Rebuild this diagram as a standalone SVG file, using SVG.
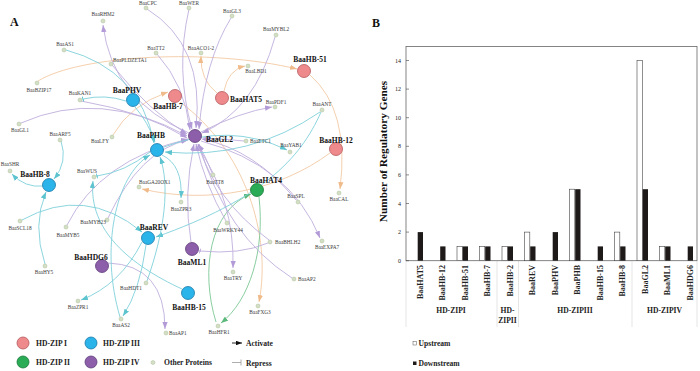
<svg xmlns="http://www.w3.org/2000/svg" width="700" height="371" viewBox="0 0 700 371">
<style>
.lab{font-family:"Liberation Serif",serif;font-size:5.3px;fill:#3a3a3a}
.big{font-family:"Liberation Serif",serif;font-weight:bold;font-size:7.5px;fill:#111}
.leg{font-family:"Liberation Serif",serif;font-weight:bold;font-size:7.6px;fill:#222}
.pl{font-family:"Liberation Serif",serif;font-weight:bold;font-size:12px;fill:#111}
.tk{font-family:"Liberation Serif",serif;font-size:6px;fill:#222}
.xl{font-family:"Liberation Serif",serif;font-weight:bold;font-size:8px;fill:#222}
.e{fill:none;stroke-width:0.9}
.ec{stroke:#7fd0da}.ep{stroke:#c0afdc}.eo{stroke:#f3c9a4}.eg{stroke:#7cc795}
.sn{fill:#d3e0c4;stroke:#aebf9c;stroke-width:0.5}
.n1{fill:#ef8a8c;stroke:#b4585c;stroke-width:0.8}
.n2{fill:#2aab55;stroke:#1b7a3b;stroke-width:0.8}
.n3{fill:#2ab4ea;stroke:#1a78a8;stroke-width:0.8}
.n4{fill:#8d5ea9;stroke:#5e3e7a;stroke-width:0.8}
.up{fill:#fff;stroke:#444;stroke-width:0.6}
.dn{fill:#1e1a1a}
.sep{stroke:#dadada;stroke-width:0.7}
</style>
<defs>
<marker id="ac" viewBox="0 0 8 6" refX="8" refY="3" markerWidth="7" markerHeight="5.5" markerUnits="userSpaceOnUse" orient="auto"><path d="M0,0L8,3L0,6z" fill="#5cc3cf"/></marker>
<marker id="ap" viewBox="0 0 8 6" refX="8" refY="3" markerWidth="7" markerHeight="5.5" markerUnits="userSpaceOnUse" orient="auto"><path d="M0,0L8,3L0,6z" fill="#b39bd8"/></marker>
<marker id="ao" viewBox="0 0 8 6" refX="8" refY="3" markerWidth="7" markerHeight="5.5" markerUnits="userSpaceOnUse" orient="auto"><path d="M0,0L8,3L0,6z" fill="#efbb8a"/></marker>
<marker id="ag" viewBox="0 0 8 6" refX="8" refY="3" markerWidth="7" markerHeight="5.5" markerUnits="userSpaceOnUse" orient="auto"><path d="M0,0L8,3L0,6z" fill="#5db97b"/></marker>
<marker id="ak" viewBox="0 0 8 6" refX="8" refY="3" markerWidth="6" markerHeight="4.5" markerUnits="userSpaceOnUse" orient="auto"><path d="M0,0L8,3L0,6z" fill="#111"/></marker>
<marker id="bc" viewBox="0 0 2 8" refX="1" refY="4" markerWidth="1.2" markerHeight="6" markerUnits="userSpaceOnUse" orient="auto"><rect width="2" height="8" fill="#5cc3cf"/></marker>
<marker id="bp" viewBox="0 0 2 8" refX="1" refY="4" markerWidth="1.2" markerHeight="6" markerUnits="userSpaceOnUse" orient="auto"><rect width="2" height="8" fill="#b39bd8"/></marker>
</defs>

<text class="pl" x="10" y="26">A</text>
<text class="pl" x="372" y="26.5">B</text>

<g id="connectors">
<!-- orange -->
<path class="e eo" d="M217,93 Q200,80 201,56" marker-end="url(#ao)"/>
<path class="e eo" d="M224,91 Q228,70 245,66" marker-end="url(#ao)"/>
<path class="e eo" d="M330,153 C280,190 210,205 142,189" marker-end="url(#ao)"/>
<path class="e eo" d="M310,75 Q350,110 340,189" marker-end="url(#ao)"/>
<path class="e eo" d="M38,81 C80,55 210,48 297,69" marker-end="url(#ao)"/>
<path class="e eo" d="M113,135 Q130,105 168,92" marker-end="url(#ao)"/>
<path class="e eo" d="M180,102 C245,150 272,235 259,302" marker-end="url(#ao)"/>
<!-- green -->
<path class="e eg" d="M259,197 C265,250 250,300 221,323" marker-end="url(#ag)"/>
<path class="e eg" d="M216,322 C200,270 210,210 251,194" marker-end="url(#ag)"/>
<!-- purple -->
<path class="e ep" d="M189,133 Q112,100 103,25" marker-end="url(#ap)"/>
<path class="e ep" d="M147,9 Q205,45 196,128" marker-end="url(#ap)"/>
<path class="e ep" d="M189,9 Q175,70 192,129" marker-end="url(#ap)"/>
<path class="e ep" d="M231,18 Q205,60 199,129" marker-end="url(#ap)"/>
<path class="e ep" d="M275,37 Q255,110 202,133" marker-end="url(#ap)"/>
<path class="e ep" d="M157,54 Q185,85 190,130" marker-end="url(#ap)"/>
<path class="e ep" d="M112,65 Q150,112 187,134" marker-end="url(#ap)"/>
<path class="e ep" d="M21,123 Q100,88 187,136" marker-end="url(#ap)"/>
<path class="e ep" d="M81,101 Q145,112 187,138" marker-end="url(#ap)"/>
<path class="e ep" d="M201,132 Q240,112 272,107" marker-end="url(#ap)"/>
<path class="e ep" d="M244,141 Q225,139 203,138" marker-end="url(#ap)"/>
<path class="e ep" d="M212,173 Q205,155 198,144" marker-end="url(#ap)"/>
<path class="e ep" d="M108,218 Q140,150 188,140" marker-end="url(#ap)"/>
<path class="e ep" d="M67,225 Q100,160 188,139" marker-end="url(#ap)"/>
<path class="e ep" d="M226,221 Q205,185 196,144" marker-end="url(#ap)"/>
<path class="e ep" d="M269,240 Q215,200 198,144" marker-end="url(#ap)"/>
<path class="e ep" d="M292,278 Q225,235 199,144" marker-end="url(#ap)"/>
<path class="e ep" d="M296,200 Q255,150 202,139" marker-end="url(#ap)"/>
<path class="e ep" d="M201,141 Q290,165 320,238" marker-end="url(#ap)"/>
<path class="e ep" d="M196,144 Q235,200 233,268" marker-end="url(#ap)"/>
<path class="e ep" d="M191,242 Q183,195 194,144" marker-end="url(#ap)"/>
<path class="e ep" d="M268,243 Q240,255 200,251" marker-end="url(#bp)"/>
<path class="e ep" d="M108,263 Q165,265 165,329" marker-end="url(#ap)"/>
<!-- cyan -->
<path class="e ec" d="M135,107 Q148,122 155,142" marker-end="url(#ac)"/>
<path class="e ec" d="M126,101 Q105,94 83,99" marker-end="url(#bc)"/>
<path class="e ec" d="M66,50 Q140,70 154,143" marker-end="url(#ac)"/>
<path class="e ec" d="M320,112 Q250,160 165,152" marker-end="url(#ac)"/>
<path class="e ec" d="M321,112 C300,160 260,200 156,237" marker-end="url(#ac)"/>
<path class="e ec" d="M164,147 Q230,122 287,150" marker-end="url(#ac)"/>
<path class="e ec" d="M162,155 Q183,165 181,198" marker-end="url(#ac)"/>
<path class="e ec" d="M150,152 Q125,172 97,176" marker-end="url(#bc)"/>
<path class="e ec" d="M182,289 C130,265 88,230 93,181" marker-end="url(#ac)"/>
<path class="e ec" d="M142,242 Q120,285 81,300" marker-end="url(#ac)"/>
<path class="e ec" d="M146,245 Q140,290 123,316" marker-end="url(#ac)"/>
<path class="e ec" d="M120,317 C100,250 115,175 150,155" marker-end="url(#ac)"/>
<path class="e ec" d="M147,281 C165,230 170,185 160,157" marker-end="url(#ac)"/>
<path class="e ec" d="M22,220 Q85,185 142,232" marker-end="url(#ac)"/>
<path class="e ec" d="M61,141 Q68,162 54,179" marker-end="url(#ac)"/>
<path class="e ec" d="M43,186 Q25,188 12,174" marker-end="url(#ac)"/>
<path class="e ec" d="M45,264 Q32,225 46,192" marker-end="url(#ac)"/>
</g>

<!-- small nodes -->
<g id="RHM2"><circle class="sn" cx="103" cy="21" r="2"/><text class="lab" x="103" y="16" text-anchor="middle">BaaRHM2</text></g>
<g id="CPC"><circle class="sn" cx="146" cy="8" r="2"/><text class="lab" x="148" y="5" text-anchor="middle">BaaCPC</text></g>
<g id="WER"><circle class="sn" cx="189" cy="8" r="2"/><text class="lab" x="189" y="4.5" text-anchor="middle">BaaWER</text></g>
<g id="GL3"><circle class="sn" cx="232" cy="16" r="2"/><text class="lab" x="232" y="12.5" text-anchor="middle">BaaGL3</text></g>
<g id="MYBL2"><circle class="sn" cx="276" cy="35" r="2"/><text class="lab" x="276" y="31" text-anchor="middle">BaaMYBL2</text></g>
<g id="ACO12"><circle class="sn" cx="201" cy="53" r="2"/><text class="lab" x="201" y="50" text-anchor="middle">BaaACO1-2</text></g>
<g id="LBD1"><circle class="sn" cx="248" cy="66" r="2"/><text class="lab" x="256" y="73" text-anchor="middle">BaaLBD1</text></g>
<g id="PDF1"><circle class="sn" cx="275" cy="107" r="2"/><text class="lab" x="276" y="103.5" text-anchor="middle">BaaPDF1</text></g>
<g id="ANT"><circle class="sn" cx="322" cy="110" r="2"/><text class="lab" x="322" y="106" text-anchor="middle">BaaANT</text></g>
<g id="TT2"><circle class="sn" cx="156" cy="53" r="2"/><text class="lab" x="156" y="49.5" text-anchor="middle">BaaTT2</text></g>
<g id="AS1"><circle class="sn" cx="64" cy="50" r="2"/><text class="lab" x="65" y="45.5" text-anchor="middle">BaaAS1</text></g>
<g id="PLDZETA1"><circle class="sn" cx="111" cy="64" r="2"/><text class="lab" x="113" y="61.5">BaaPLDZETA1</text></g>
<g id="BZIP17"><circle class="sn" cx="37" cy="83" r="2"/><text class="lab" x="39" y="92" text-anchor="middle">BaaBZIP17</text></g>
<g id="KAN1"><circle class="sn" cx="80" cy="100" r="2"/><text class="lab" x="80" y="94.5" text-anchor="middle">BaaKAN1</text></g>
<g id="GL1"><circle class="sn" cx="19" cy="124" r="2"/><text class="lab" x="20" y="132" text-anchor="middle">BaaGL1</text></g>
<g id="ARF5"><circle class="sn" cx="60" cy="140" r="2"/><text class="lab" x="60" y="135.5" text-anchor="middle">BaaARF5</text></g>
<g id="LFY"><circle class="sn" cx="112" cy="137" r="2"/><text class="lab" x="100" y="142.5" text-anchor="middle">BaaLFY</text></g>
<g id="SHR"><circle class="sn" cx="10" cy="171" r="2"/><text class="lab" x="10" y="166" text-anchor="middle">BaaSHR</text></g>
<g id="WUS"><circle class="sn" cx="94" cy="177" r="2"/><text class="lab" x="87" y="173" text-anchor="middle">BaaWUS</text></g>
<g id="GA20OX1"><circle class="sn" cx="139" cy="187" r="2"/><text class="lab" x="139" y="183.5">BaaGA20OX1</text></g>
<g id="ETC1"><circle class="sn" cx="246" cy="141" r="2"/><text class="lab" x="250" y="143">BaaETC1</text></g>
<g id="YAB1"><circle class="sn" cx="290" cy="152" r="2"/><text class="lab" x="291" y="147" text-anchor="middle">BaaYAB1</text></g>
<g id="TT8"><circle class="sn" cx="213" cy="175" r="2"/><text class="lab" x="215" y="183.5" text-anchor="middle">BaaTT8</text></g>
<g id="ZPR3"><circle class="sn" cx="181" cy="202" r="2"/><text class="lab" x="181" y="210.5" text-anchor="middle">BaaZPR3</text></g>
<g id="SPL"><circle class="sn" cx="298" cy="202" r="2"/><text class="lab" x="296" y="198" text-anchor="middle">BaaSPL</text></g>
<g id="CAL"><circle class="sn" cx="339" cy="193" r="2"/><text class="lab" x="339" y="201" text-anchor="middle">BaaCAL</text></g>
<g id="WRKY44"><circle class="sn" cx="227" cy="223" r="2"/><text class="lab" x="228" y="232" text-anchor="middle">BaaWRKY44</text></g>
<g id="EXPA7"><circle class="sn" cx="322" cy="241" r="2"/><text class="lab" x="327" y="248.5" text-anchor="middle">BaaEXPA7</text></g>
<g id="BHLH2"><circle class="sn" cx="270" cy="242" r="2"/><text class="lab" x="275" y="244">BaaBHLH2</text></g>
<g id="MYB23"><circle class="sn" cx="107" cy="220" r="2"/><text class="lab" x="93" y="224" text-anchor="middle">BaaMYB23</text></g>
<g id="SCL18"><circle class="sn" cx="20" cy="221" r="2"/><text class="lab" x="20" y="229.5" text-anchor="middle">BaaSCL18</text></g>
<g id="MYB5"><circle class="sn" cx="66" cy="227" r="2"/><text class="lab" x="68" y="237" text-anchor="middle">BaaMYB5</text></g>
<g id="HY5"><circle class="sn" cx="45" cy="266" r="2"/><text class="lab" x="44" y="273.5" text-anchor="middle">BaaHY5</text></g>
<g id="HDT1"><circle class="sn" cx="146" cy="283" r="2"/><text class="lab" x="131" y="289.5" text-anchor="middle">BaaHDT1</text></g>
<g id="ZPR1"><circle class="sn" cx="78" cy="301" r="2"/><text class="lab" x="78" y="308.5" text-anchor="middle">BaaZPR1</text></g>
<g id="AS2"><circle class="sn" cx="121" cy="319" r="2"/><text class="lab" x="121" y="327" text-anchor="middle">BaaAS2</text></g>
<g id="AP1"><circle class="sn" cx="166" cy="333" r="2"/><text class="lab" x="169" y="334.5">BaaAP1</text></g>
<g id="TRY"><circle class="sn" cx="233" cy="272" r="2"/><text class="lab" x="233" y="279.5" text-anchor="middle">BaaTRY</text></g>
<g id="AP2"><circle class="sn" cx="294" cy="279" r="2"/><text class="lab" x="298" y="281">BaaAP2</text></g>
<g id="FXG3"><circle class="sn" cx="258" cy="306" r="2"/><text class="lab" x="260" y="313.5" text-anchor="middle">BaaFXG3</text></g>
<g id="HFR1"><circle class="sn" cx="218" cy="326" r="2"/><text class="lab" x="219" y="334" text-anchor="middle">BaaHFR1</text></g>

<!-- HD-ZIP nodes -->
<g id="BaaPHV"><circle class="n3" cx="133" cy="100" r="6.5"/><text class="big" x="127" y="93" text-anchor="middle">BaaPHV</text></g>
<g id="BaaHB-7"><circle class="n1" cx="175" cy="96" r="6.5"/><text class="big" x="168" y="109" text-anchor="middle">BaaHB-7</text></g>
<g id="BaaHAT5"><circle class="n1" cx="222" cy="98" r="6.5"/><text class="big" x="230" y="102">BaaHAT5</text></g>
<g id="BaaHB-51"><circle class="n1" cx="304" cy="71" r="6.5"/><text class="big" x="310" y="61.5" text-anchor="middle">BaaHB-51</text></g>
<g id="BaaGL2"><circle class="n4" cx="195" cy="136" r="6.5"/><text class="big" x="206" y="142">BaaGL2</text></g>
<g id="BaaPHB"><circle class="n3" cx="157" cy="150" r="6.5"/><text class="big" x="151" y="138" text-anchor="middle">BaaPHB</text></g>
<g id="BaaHB-8"><circle class="n3" cx="49" cy="185" r="6.5"/><text class="big" x="35" y="176.5" text-anchor="middle">BaaHB-8</text></g>
<g id="BaaREV"><circle class="n3" cx="148" cy="238" r="6.5"/><text class="big" x="154" y="230" text-anchor="middle">BaaREV</text></g>
<g id="BaaHAT4"><circle class="n2" cx="257" cy="190" r="6.5"/><text class="big" x="266" y="183" text-anchor="middle">BaaHAT4</text></g>
<g id="BaaHB-12"><circle class="n1" cx="336" cy="149" r="6.5"/><text class="big" x="336" y="142.5" text-anchor="middle">BaaHB-12</text></g>
<g id="BaaML1"><circle class="n4" cx="192" cy="249" r="6.5"/><text class="big" x="192" y="265" text-anchor="middle">BaaML1</text></g>
<g id="BaaHDG6"><circle class="n4" cx="102" cy="266" r="6.5"/><text class="big" x="91" y="260" text-anchor="middle">BaaHDG6</text></g>
<g id="BaaHB-15"><circle class="n3" cx="188" cy="293" r="6.5"/><text class="big" x="189" y="310" text-anchor="middle">BaaHB-15</text></g>

<!-- legend A -->
<g id="legendA">
<circle class="n1" cx="23" cy="343" r="6"/><text class="leg" x="36" y="346">HD-ZIP I</text>
<circle class="n3" cx="91" cy="343" r="6"/><text class="leg" x="103" y="346">HD-ZIP III</text>
<circle class="n2" cx="23" cy="362" r="6"/><text class="leg" x="36" y="365">HD-ZIP II</text>
<circle class="n4" cx="91" cy="362" r="6"/><text class="leg" x="103" y="365">HD-ZIP IV</text>
<circle class="sn" cx="153" cy="362.5" r="2"/><text class="leg" x="164" y="365">Other Proteins</text>
<line x1="232" y1="343" x2="242" y2="343" stroke="#111" stroke-width="0.9" marker-end="url(#ak)"/><text class="leg" x="246" y="346">Activate</text>
<line x1="232" y1="362.5" x2="241" y2="362.5" stroke="#999" stroke-width="0.8"/><line x1="241" y1="359.5" x2="241" y2="365.5" stroke="#999" stroke-width="0.8"/><text class="leg" x="246" y="365.5">Repress</text>
</g>

<!-- chart B -->
<g id="chart">
<line class="sep" x1="406" y1="261" x2="406" y2="327"/>
<line class="sep" x1="497" y1="261" x2="497" y2="327"/>
<line class="sep" x1="518.5" y1="261" x2="518.5" y2="327"/>
<line class="sep" x1="632" y1="261" x2="632" y2="327"/>
<line class="sep" x1="697" y1="261" x2="697" y2="327"/>
<rect x="406" y="46.5" width="291" height="214.2" fill="none" stroke="#666" stroke-width="0.8"/>
<g stroke="#444" stroke-width="0.6">
<line x1="406" y1="260.7" x2="409" y2="260.7"/><line x1="406" y1="232.1" x2="409" y2="232.1"/><line x1="406" y1="203.5" x2="409" y2="203.5"/><line x1="406" y1="174.9" x2="409" y2="174.9"/><line x1="406" y1="146.3" x2="409" y2="146.3"/><line x1="406" y1="117.7" x2="409" y2="117.7"/><line x1="406" y1="89.1" x2="409" y2="89.1"/><line x1="406" y1="60.5" x2="409" y2="60.5"/>
</g>
<g class="tk" text-anchor="end">
<text x="401" y="262.7">0</text><text x="401" y="234.1">2</text><text x="401" y="205.5">4</text><text x="401" y="176.9">6</text><text x="401" y="148.3">8</text><text x="401" y="119.7">10</text><text x="401" y="91.1">12</text><text x="401" y="62.5">14</text>
</g>
<text class="pl" style="font-size:11.3px" transform="translate(387,151.5) rotate(-90)" text-anchor="middle">Number of Regulatory Genes</text>
<!-- bars: centers 417.5 + 22.5*i ; unit 14.3 -->
<rect class="dn" x="417.7" y="232.1" width="5.3" height="28.6"/>
<rect class="dn" x="440.2" y="246.4" width="5.3" height="14.3"/>
<rect class="up" x="457" y="246.4" width="5.3" height="14.3"/><rect class="dn" x="462.7" y="246.4" width="5.3" height="14.3"/>
<rect class="up" x="479.5" y="246.4" width="5.3" height="14.3"/><rect class="dn" x="485.2" y="246.4" width="5.3" height="14.3"/>
<rect class="up" x="502" y="246.4" width="5.3" height="14.3"/><rect class="dn" x="507.7" y="246.4" width="5.3" height="14.3"/>
<rect class="up" x="524.5" y="232.1" width="5.3" height="28.6"/><rect class="dn" x="530.2" y="246.4" width="5.3" height="14.3"/>
<rect class="dn" x="552.7" y="232.1" width="5.3" height="28.6"/>
<rect class="up" x="569.5" y="189.2" width="5.3" height="71.5"/><rect class="dn" x="575.2" y="189.2" width="5.3" height="71.5"/>
<rect class="dn" x="597.7" y="246.4" width="5.3" height="14.3"/>
<rect class="up" x="614.5" y="232.1" width="5.3" height="28.6"/><rect class="dn" x="620.2" y="246.4" width="5.3" height="14.3"/>
<rect class="up" x="637" y="60.5" width="5.3" height="200.2"/><rect class="dn" x="642.7" y="189.2" width="5.3" height="71.5"/>
<rect class="up" x="659.5" y="246.4" width="5.3" height="14.3"/><rect class="dn" x="665.2" y="246.4" width="5.3" height="14.3"/>
<rect class="dn" x="687.7" y="246.4" width="5.3" height="14.3"/>
<g class="xl" text-anchor="end">
<text transform="translate(422.8,265) rotate(-90)">BaaHAT5</text>
<text transform="translate(445.3,265) rotate(-90)">BaaHB-12</text>
<text transform="translate(467.8,265) rotate(-90)">BaaHB-51</text>
<text transform="translate(490.3,265) rotate(-90)">BaaHB-7</text>
<text transform="translate(512.8,265) rotate(-90)">BaaHB-2</text>
<text transform="translate(535.3,265) rotate(-90)">BaaREV</text>
<text transform="translate(557.8,265) rotate(-90)">BaaPHV</text>
<text transform="translate(580.3,265) rotate(-90)">BaaPHB</text>
<text transform="translate(602.8,265) rotate(-90)">BaaHB-15</text>
<text transform="translate(625.3,265) rotate(-90)">BaaHB-8</text>
<text transform="translate(647.8,265) rotate(-90)">BaaGL2</text>
<text transform="translate(670.3,265) rotate(-90)">BaaML1</text>
<text transform="translate(692.8,265) rotate(-90)">BaaHDG6</text>
</g>
<g class="leg" text-anchor="middle">
<text x="451" y="313">HD-ZIPI</text>
<text x="507.5" y="313">HD-</text><text x="507.5" y="323">ZIPII</text>
<text x="575" y="313">HD-ZIPIII</text>
<text x="664.5" y="313">HD-ZIPIV</text>
</g>
<rect x="413" y="341.5" width="3.5" height="3.5" fill="#fff" stroke="#555" stroke-width="0.5"/><text class="leg" x="418.5" y="346">Upstream</text>
<rect x="413" y="361.5" width="3.5" height="3.5" fill="#1e1a1a"/><text class="leg" x="418.5" y="366">Downstream</text>
</g>
</svg>
